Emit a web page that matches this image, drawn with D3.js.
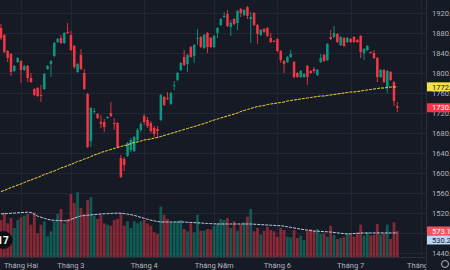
<!DOCTYPE html>
<html>
<head>
<meta charset="utf-8">
<script src="https://cdn.jsdelivr.net/npm/d3@7/dist/d3.min.js"></script>
<style>
  html, body { margin: 0; padding: 0; background: #161a25; }
  svg { display: block; }
  text { font-family: Roboto, "Liberation Sans", sans-serif; }
</style>
</head>
<body>
<div id="chart"></div>
<script>
// daily candles (price units)
var opens = [1890, 1876, 1844, 1838, 1804, 1822, 1824, 1806, 1814, 1790,
  1768, 1770, 1756, 1768, 1808, 1818, 1834, 1862, 1870, 1860,
  1882, 1876, 1854, 1802, 1836, 1800, 1758, 1664, 1722, 1718,
  1702, 1702, 1710, 1720, 1700, 1700, 1630, 1628, 1634, 1646,
  1644, 1666, 1686, 1714, 1706, 1700, 1690, 1688, 1706, 1752,
  1750, 1738, 1775, 1786, 1806, 1832, 1818, 1852, 1834, 1869,
  1872, 1850, 1880, 1870, 1852, 1880, 1896, 1912, 1918, 1892,
  1908, 1900, 1928, 1916, 1932, 1908, 1920, 1896, 1876, 1888,
  1890, 1870, 1864, 1868, 1844, 1824, 1822, 1832, 1822, 1800,
  1792, 1792, 1814, 1804, 1808, 1796, 1822, 1836, 1826, 1872,
  1872, 1878, 1856, 1870, 1862, 1868, 1872, 1866, 1874, 1840,
  1846, 1842, 1840, 1830, 1792, 1806, 1772, 1802, 1782, 1734];
var highs = [1898, 1878, 1846, 1840, 1816, 1832, 1826, 1816, 1816, 1800,
  1770, 1772, 1776, 1800, 1816, 1826, 1862, 1870, 1876, 1882,
  1900, 1884, 1856, 1820, 1848, 1808, 1760, 1732, 1730, 1720,
  1716, 1708, 1714, 1742, 1710, 1702, 1636, 1632, 1662, 1670,
  1674, 1690, 1702, 1718, 1712, 1704, 1694, 1694, 1758, 1754,
  1762, 1762, 1784, 1802, 1822, 1846, 1838, 1854, 1858, 1888,
  1874, 1878, 1882, 1872, 1876, 1892, 1910, 1922, 1926, 1906,
  1910, 1926, 1930, 1928, 1934, 1922, 1922, 1898, 1888, 1890,
  1892, 1880, 1866, 1870, 1846, 1826, 1834, 1846, 1824, 1802,
  1806, 1800, 1816, 1806, 1812, 1808, 1838, 1838, 1860, 1886,
  1894, 1880, 1874, 1872, 1872, 1870, 1874, 1868, 1876, 1850,
  1856, 1843, 1846, 1832, 1808, 1808, 1806, 1804, 1784, 1742];
var lows = [1866, 1840, 1822, 1794, 1802, 1820, 1780, 1804, 1782, 1780,
  1754, 1752, 1742, 1766, 1806, 1792, 1832, 1860, 1858, 1858,
  1878, 1844, 1808, 1800, 1806, 1766, 1650, 1652, 1718, 1708,
  1690, 1682, 1708, 1712, 1686, 1650, 1590, 1604, 1632, 1642,
  1642, 1662, 1682, 1696, 1690, 1680, 1672, 1670, 1704, 1734,
  1746, 1736, 1766, 1784, 1804, 1814, 1802, 1830, 1820, 1856,
  1850, 1848, 1840, 1850, 1850, 1870, 1894, 1910, 1892, 1874,
  1896, 1886, 1912, 1914, 1908, 1860, 1894, 1858, 1874, 1880,
  1872, 1860, 1862, 1842, 1820, 1800, 1820, 1830, 1790, 1790,
  1790, 1790, 1776, 1798, 1800, 1794, 1820, 1822, 1824, 1866,
  1870, 1860, 1854, 1852, 1860, 1860, 1860, 1860, 1830, 1826,
  1844, 1839, 1828, 1782, 1790, 1780, 1760, 1784, 1734, 1722];
var closes = [1870, 1842, 1830, 1802, 1814, 1830, 1806, 1814, 1790, 1782,
  1756, 1754, 1754, 1798, 1814, 1824, 1860, 1868, 1860, 1880,
  1880, 1846, 1812, 1818, 1808, 1768, 1652, 1730, 1724, 1710,
  1698, 1692, 1712, 1714, 1698, 1652, 1592, 1616, 1660, 1666,
  1672, 1686, 1698, 1702, 1694, 1684, 1678, 1684, 1756, 1736,
  1748, 1760, 1776, 1800, 1820, 1816, 1836, 1832, 1856, 1870,
  1852, 1876, 1852, 1852, 1874, 1890, 1908, 1914, 1894, 1900,
  1898, 1924, 1920, 1926, 1914, 1912, 1896, 1878, 1886, 1882,
  1874, 1862, 1863, 1844, 1826, 1818, 1832, 1838, 1792, 1792,
  1804, 1798, 1792, 1800, 1804, 1806, 1830, 1824, 1858, 1868,
  1880, 1862, 1872, 1854, 1870, 1862, 1862, 1862, 1842, 1848,
  1854, 1840, 1830, 1792, 1806, 1782, 1804, 1786, 1744, 1730.5];
var volumes = [815, 984, 742, 859, 639, 815, 874, 910, 947, 712,
  984, 522, 712, 786, 456, 566, 786, 947, 1057, 742,
  837, 1388, 1190, 1425, 1079, 947, 1256, 1315, 910, 837,
  932, 742, 712, 690, 815, 837, 969, 690, 786, 639,
  786, 742, 786, 815, 742, 690, 544, 507, 1109, 932,
  837, 764, 764, 786, 815, 617, 566, 742, 544, 932,
  580, 580, 617, 602, 690, 742, 837, 815, 859, 639,
  786, 580, 712, 764, 888, 1057, 566, 639, 492, 580,
  668, 595, 566, 448, 639, 595, 448, 433, 595, 419,
  470, 375, 580, 617, 580, 617, 507, 522, 448, 690,
  485, 397, 419, 448, 522, 507, 448, 536, 712, 470,
  544, 470, 492, 727, 492, 522, 712, 397, 764, 573.14];
// yellow moving average on price
var priceMa = [1563, 1565, 1568, 1571, 1573, 1576, 1578, 1581, 1584, 1586,
  1589, 1591, 1594, 1597, 1599, 1602, 1604, 1607, 1610, 1612,
  1615, 1617, 1620, 1623, 1625, 1628, 1630, 1633, 1636, 1638,
  1641, 1643, 1645, 1647, 1649, 1651, 1653, 1655, 1656, 1659,
  1661, 1662, 1664, 1666, 1667, 1668, 1670, 1671, 1673, 1675,
  1677, 1679, 1681, 1683, 1685, 1687, 1689, 1691, 1693, 1695,
  1697, 1699, 1701, 1704, 1706, 1708, 1710, 1712, 1714, 1716,
  1718, 1720, 1723, 1725, 1727, 1729, 1731, 1733, 1734, 1735,
  1737, 1738, 1739, 1740, 1741, 1742, 1744, 1745, 1746, 1747,
  1748, 1749, 1750, 1751, 1752, 1753, 1754, 1754, 1755, 1756,
  1757, 1758, 1759, 1760, 1761, 1762, 1762, 1763, 1764, 1765,
  1766, 1767, 1768, 1769, 1770, 1770, 1771, 1772, 1772, 1772.3];
// moving average on volume
var volumeMa = [948, 952, 958, 963, 968, 973, 978, 983, 988, 980,
  940, 900, 876, 853, 830, 814, 809, 805, 801, 797,
  798, 827, 855, 883, 905, 912, 920, 927, 934, 941,
  948, 952, 955, 959, 963, 966, 966, 955, 944, 932,
  917, 895, 873, 852, 831, 811, 796, 781, 771, 771,
  771, 771, 771, 771, 771, 770, 766, 761, 757, 752,
  748, 744, 739, 735, 730, 727, 727, 727, 727, 727,
  727, 727, 727, 727, 727, 727, 722, 718, 713, 709,
  705, 700, 696, 691, 687, 680, 666, 653, 640, 627,
  615, 603, 592, 581, 572, 568, 564, 559, 555, 550,
  541, 532, 523, 515, 508, 513, 517, 522, 527, 530,
  530, 530, 530, 530, 530, 530, 530, 530, 530, 530.22];

var monthIndex = [6, 21, 43, 64, 83, 105, 126];
var monthLabels = ["Tháng Hai", "Tháng 3", "Tháng 4", "Tháng Năm", "Tháng 6", "Tháng 7", "Tháng 8"];
var priceTicks = [1440, 1480, 1520, 1560, 1600, 1640, 1680, 1720, 1760, 1800, 1840, 1880, 1920];


var width = 450, height = 270;
var paneRight = 426, paneBottom = 257;
var upColor = "#089981", downColor = "#f23645";

var x = d3.scaleLinear().domain([0, 119]).range([1, 397.3]);
var y = d3.scaleLinear().domain([1440, 1920]).range([253, 13]);
var yVol = d3.scaleLinear().domain([0, 1000]).range([paneBottom, 211.6]);

var svg = d3.select("#chart")
  .append("svg")
  .attr("width", width)
  .attr("height", height);

svg.append("rect")
  .attr("width", width)
  .attr("height", height)
  .attr("fill", "#161a25");

svg.append("clipPath")
  .attr("id", "pane")
  .append("rect")
  .attr("width", paneRight)
  .attr("height", paneBottom);

var pane = svg.append("g").attr("clip-path", "url(#pane)");

// grid
pane.selectAll(".hgrid")
  .data(priceTicks)
  .enter()
  .append("line")
  .attr("x1", 0)
  .attr("x2", paneRight)
  .attr("y1", function (d) { return Math.round(y(d)) + 0.5; })
  .attr("y2", function (d) { return Math.round(y(d)) + 0.5; })
  .attr("stroke", "#232734");

pane.selectAll(".vgrid")
  .data(monthIndex)
  .enter()
  .append("line")
  .attr("x1", function (d) { return Math.round(x(d)) + 0.5; })
  .attr("x2", function (d) { return Math.round(x(d)) + 0.5; })
  .attr("y1", 0)
  .attr("y2", paneBottom)
  .attr("stroke", "#232734");

var idx = d3.range(closes.length);
function isUp(i) { return closes[i] >= opens[i]; }

// volume
pane.selectAll(".vol")
  .data(idx)
  .enter()
  .append("rect")
  .attr("x", function (i) { return x(i) - 1.4; })
  .attr("width", 2.8)
  .attr("y", function (i) { return yVol(volumes[i]); })
  .attr("height", function (i) { return paneBottom - yVol(volumes[i]); })
  .attr("fill", function (i) { return isUp(i) ? upColor : downColor; })
  .attr("fill-opacity", 0.5);

pane.append("path")
  .datum(volumeMa)
  .attr("fill", "none")
  .attr("stroke", "#b9cfe8")
  .attr("stroke-width", 1)
  .attr("stroke-dasharray", "3,1")
  .attr("d", d3.line()
    .x(function (d, i) { return x(i); })
    .y(function (d) { return yVol(d); }));

// candles
var candle = pane.selectAll(".candle")
  .data(idx)
  .enter()
  .append("g");

candle.append("line")
  .attr("x1", function (i) { return x(i); })
  .attr("x2", function (i) { return x(i); })
  .attr("y1", function (i) { return y(highs[i]); })
  .attr("y2", function (i) { return y(lows[i]); })
  .attr("stroke", function (i) { return isUp(i) ? upColor : downColor; })
  .attr("stroke-width", 0.9);

candle.append("rect")
  .attr("x", function (i) { return x(i) - 1.25; })
  .attr("width", 2.5)
  .attr("y", function (i) { return y(Math.max(opens[i], closes[i])); })
  .attr("height", function (i) { return Math.max(0.9, Math.abs(y(opens[i]) - y(closes[i]))); })
  .attr("fill", function (i) { return isUp(i) ? upColor : downColor; });

pane.append("path")
  .datum(priceMa)
  .attr("fill", "none")
  .attr("stroke", "#f0d83a")
  .attr("stroke-width", 1)
  .attr("stroke-dasharray", "3,1")
  .attr("d", d3.line()
    .x(function (d, i) { return x(i); })
    .y(function (d) { return y(d); }));

// time axis
svg.append("line")
  .attr("x1", 0)
  .attr("x2", width)
  .attr("y1", paneBottom + 0.5)
  .attr("y2", paneBottom + 0.5)
  .attr("stroke", "#2a2e39");

svg.selectAll(".month")
  .data(monthIndex)
  .enter()
  .append("text")
  .attr("x", function (d) { return x(d); })
  .attr("y", 267.5)
  .attr("text-anchor", "middle")
  .attr("font-size", 7.5)
  .attr("fill", "#b2b5be")
  .text(function (d, i) { return monthLabels[i]; });

// price axis
svg.append("rect")
  .attr("x", paneRight)
  .attr("width", width - paneRight)
  .attr("height", height)
  .attr("fill", "#161a25");

svg.append("line")
  .attr("x1", paneRight + 0.5)
  .attr("x2", paneRight + 0.5)
  .attr("y1", 0)
  .attr("y2", height)
  .attr("stroke", "#2a2e39");

svg.selectAll(".ptick")
  .data(priceTicks)
  .enter()
  .append("text")
  .attr("x", 432)
  .attr("y", function (d) { return y(d) + 2.7; })
  .attr("font-size", 7.5)
  .attr("fill", "#b2b5be")
  .text(function (d) { return d3.format(".1f")(d); });

// last value labels
var lastI = closes.length - 1;
var volLabelY = yVol(volumes[lastI]);
var volMaLabelY = Math.max(yVol(volumeMa[lastI]), volLabelY + 9);
var tags = [
  { v: priceMa[lastI], cy: y(priceMa[lastI]), bg: "#f5e04a", fg: "#131722", fmt: ".1f" },
  { v: closes[lastI], cy: y(closes[lastI]), bg: "#f23645", fg: "#ffffff", fmt: ".1f" },
  { v: volumes[lastI], cy: volLabelY, bg: "#f0525f", fg: "#ffffff", fmt: ".2f" },
  { v: volumeMa[lastI], cy: volMaLabelY, bg: "#bcd6f5", fg: "#131722", fmt: ".2f" }
];

var tag = svg.selectAll(".tag")
  .data(tags)
  .enter()
  .append("g");

tag.append("rect")
  .attr("x", paneRight + 1)
  .attr("y", function (d) { return d.cy - 4.5; })
  .attr("width", width - paneRight)
  .attr("height", 9)
  .attr("fill", function (d) { return d.bg; });

tag.append("text")
  .attr("x", 432)
  .attr("y", function (d) { return d.cy + 2.7; })
  .attr("font-size", 7.5)
  .attr("fill", function (d) { return d.fg; })
  .text(function (d) { return d3.format(d.fmt)(d.v); });

// corner icon
svg.append("circle")
  .attr("cx", 445)
  .attr("cy", 264)
  .attr("r", 3.5)
  .attr("fill", "none")
  .attr("stroke", "#b2b5be")
  .attr("stroke-width", 1);

// logo
svg.append("circle")
  .attr("cx", 3.5)
  .attr("cy", 240)
  .attr("r", 9)
  .attr("fill", "#0d0f15");

svg.append("text")
  .attr("x", 3)
  .attr("y", 243.5)
  .attr("text-anchor", "middle")
  .attr("font-size", 10)
  .attr("font-weight", "bold")
  .attr("fill", "#ffffff")
  .text("17");
</script>
</body>
</html>
